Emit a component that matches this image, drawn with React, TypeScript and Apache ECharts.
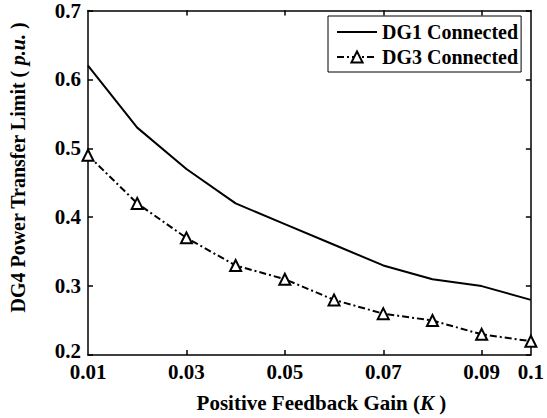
import React, { useEffect, useRef } from "react";
import * as echarts from "echarts";

const gains = [0.01, 0.02, 0.03, 0.04, 0.05, 0.06, 0.07, 0.08, 0.09, 0.1];
const dg1 = [0.62, 0.53, 0.47, 0.42, 0.39, 0.36, 0.33, 0.31, 0.3, 0.28];
const dg3 = [0.49, 0.42, 0.37, 0.33, 0.31, 0.28, 0.26, 0.25, 0.23, 0.22];
const xLabels = [0.01, 0.03, 0.05, 0.07, 0.09, 0.1];
const xTicks = [0.03, 0.05, 0.07, 0.09];
const seriesNames = ["DG1 Connected", "DG3 Connected"];

const FONT = "'Liberation Serif', 'Times New Roman', serif";

export default function App() {
  const ref = useRef<HTMLDivElement>(null);
  useEffect(() => {
    if (!ref.current) return;
    const chart = echarts.init(ref.current, undefined, { renderer: "svg" });
    const axisLine = { show: true, lineStyle: { color: "#000", width: 1.5 } };
    const tick = { show: true, inside: true, length: 5, lineStyle: { color: "#000", width: 1.5 } };
    const titleStyle = (size: number) => ({
      fontFamily: FONT,
      fontWeight: "bold",
      fontSize: size,
      color: "#000",
      rich: { i: { fontFamily: FONT, fontWeight: "bold", fontStyle: "italic", fontSize: size, color: "#000" } },
    });
    const labelFont = { fontFamily: FONT, fontWeight: "bold", fontSize: 21, color: "#000" };
    chart.setOption({
      animation: false,
      backgroundColor: "#fff",
      textStyle: { fontFamily: FONT },
      grid: { left: 88, right: 14, top: 10, bottom: 61, containLabel: false },
      legend: {
        orient: "vertical",
        left: 328,
        top: 16,
        data: [
          { name: seriesNames[0], itemStyle: { opacity: 0 } },
          { name: seriesNames[1] },
        ],
        borderColor: "#000",
        borderWidth: 1,
        backgroundColor: "#fff",
        padding: [6, 3, 5, 8],
        itemWidth: 40,
        itemHeight: 14,
        itemGap: 5,
        textStyle: { fontFamily: FONT, fontWeight: "bold", fontSize: 20, color: "#000", lineHeight: 20 },
      },
      xAxis: [
        {
          type: "value",
          min: 0.01,
          max: 0.1,
          position: "bottom",
          axisLine,
          axisTick: { ...tick, customValues: xTicks },
          splitLine: { show: false },
          axisLabel: {
            customValues: xLabels,
            formatter: (v: number) => String(+v.toFixed(2)),
            ...labelFont,
            lineHeight: 15,
            margin: 9,
          },
          name: "Positive Feedback Gain ({i|K} )",
          nameLocation: "middle",
          nameGap: 37,
          nameTextStyle: { ...titleStyle(21), padding: [0, 0, 0, 24] },
        },
        {
          type: "value",
          min: 0.01,
          max: 0.1,
          position: "top",
          axisLine,
          axisTick: { ...tick, customValues: xTicks },
          axisLabel: { show: false, customValues: xLabels },
          splitLine: { show: false },
        },
      ],
      yAxis: [
        {
          type: "value",
          min: 0.2,
          max: 0.7,
          interval: 0.1,
          position: "left",
          axisLine,
          axisTick: tick,
          splitLine: { show: false },
          axisLabel: {
            formatter: (v: number) => {
              const s = String(+v.toFixed(1));
              return Math.abs(v - 0.2) < 1e-9 ? "{up|" + s + "}" : s;
            },
            ...labelFont,
            lineHeight: 15,
            margin: 7,
            rich: { up: { ...labelFont, lineHeight: 15, padding: [0, 0, 8, 0] } },
          },
          name: "DG4 Power Transfer Limit ( {i|p.u.} )",
          nameLocation: "middle",
          nameGap: 60,
          nameTextStyle: { ...titleStyle(20), padding: [0, 0, 0, 30] },
        },
        {
          type: "value",
          min: 0.2,
          max: 0.7,
          interval: 0.1,
          position: "right",
          axisLine,
          axisTick: tick,
          axisLabel: { show: false },
          splitLine: { show: false },
        },
      ],
      series: [
        {
          name: seriesNames[0],
          type: "line",
          data: gains.map((g, i) => [g, dg1[i]]),
          symbol: "none",
          lineStyle: { color: "#000", width: 2, type: "solid" },
          itemStyle: { color: "#000" },
        },
        {
          name: seriesNames[1],
          type: "line",
          data: gains.map((g, i) => [g, dg3[i]]),
          symbol: "triangle",
          symbolSize: 11,
          lineStyle: { color: "#000", width: 2, type: [7, 3, 2, 3] },
          itemStyle: { color: "#fff", borderColor: "#000", borderWidth: 2 },
        },
      ],
    });
    return () => chart.dispose();
  }, []);
  return <div ref={ref} style={{ width: 547, height: 418, position: "absolute", left: 0, top: 0 }} />;
}
